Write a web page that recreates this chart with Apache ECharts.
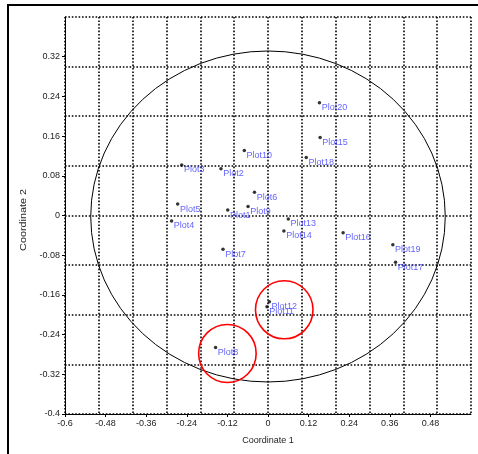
<!DOCTYPE html>
<html>
<head>
<meta charset="utf-8">
<script src="https://cdn.jsdelivr.net/npm/echarts@6/dist/echarts.min.js"></script>
<style>
html,body{margin:0;padding:0;background:#fff;}
#c{width:478px;height:454px;}
</style>
</head>
<body>
<div id="c"></div>
<script>
// Point data
var plotNames = ['Plot1','Plot2','Plot3','Plot4','Plot5','Plot6','Plot7','Plot8','Plot9','Plot10',
                 'Plot11','Plot12','Plot13','Plot14','Plot15','Plot16','Plot17','Plot18','Plot19','Plot20'];
var coord1 = [-0.119,-0.139,-0.255,-0.285,-0.267,-0.040,-0.133,-0.155,-0.059,-0.070,
              -0.003, 0.004, 0.060, 0.047, 0.154, 0.222, 0.377, 0.113, 0.369, 0.152];
var coord2 = [ 0.011, 0.094, 0.102,-0.011, 0.023, 0.047,-0.068,-0.266, 0.018, 0.131,
              -0.184,-0.174,-0.007,-0.031, 0.157,-0.035,-0.094, 0.117,-0.059, 0.227];
// Ellipses: center x, center y, radius x, radius y (data units)
var bigEllipse = [0.0, -0.002, 0.524, 0.3335];
var redCircles = [[0.048, -0.190, 0.085, 0.0585], [-0.120, -0.278, 0.085, 0.0585]];
// Axis tick settings
var xTickStep = 0.12, yTickStep = 0.08, gridStep = 0.1;
var xMin = -0.6, xMax = 0.6, yMin = -0.4, yMax = 0.4;
var xTitle = 'Coordinate 1', yTitle = 'Coordinate 2';

var pts = plotNames.map(function(n, i){ return {name: n, value: [coord1[i], coord2[i]]}; });

function fmt(v){ return String(parseFloat(v.toFixed(2))); }

function ellipseRender(color, width){
  return function(params, api){
    var c = api.coord([api.value(0), api.value(1)]);
    var s = api.size([api.value(2), api.value(3)]);
    var rx = s[0], ry = s[1];
    var d = 'M' + (c[0]-rx) + ' ' + c[1] +
            ' A' + rx + ' ' + ry + ' 0 1 0 ' + (c[0]+rx) + ' ' + c[1] +
            ' A' + rx + ' ' + ry + ' 0 1 0 ' + (c[0]-rx) + ' ' + c[1] + ' Z';
    return {
      type: 'path',
      shape: {pathData: d},
      style: {fill: null, stroke: color, lineWidth: width}
    };
  };
}

var font = 'Liberation Sans, Arial, sans-serif';
var chart = echarts.init(document.getElementById('c'), null, {renderer: 'canvas'});
chart.setOption({
  backgroundColor: '#fff',
  animation: false,
  graphic: [{
    type: 'rect', z: 100, silent: true,
    shape: {x: 8, y: 5, width: 500, height: 500},
    style: {fill: null, stroke: '#000', lineWidth: 2}
  }, {
    type: 'text', z: 100, silent: true,
    x: 24, y: 220, rotation: Math.PI / 2, scaleX: 1.2,
    style: {text: yTitle, fontFamily: font, fontSize: 9, fill: '#222',
            align: 'center', verticalAlign: 'middle'}
  }],
  grid: {left: 65, top: 17, right: 7, bottom: 40, containLabel: false},
  xAxis: [{
    type: 'value', min: xMin, max: xMax, interval: xTickStep,
    name: xTitle, nameLocation: 'middle', nameGap: 22,
    nameTextStyle: {fontFamily: font, fontSize: 9, color: '#222'},
    axisLine: {show: true, onZero: false, lineStyle: {color: '#000', width: 1}},
    axisTick: {show: true, length: 3, inside: false, lineStyle: {color: '#000'}},
    axisLabel: {show: true, margin: 5, fontFamily: font, fontSize: 9, color: '#222',
                showMaxLabel: false, formatter: fmt},
    splitLine: {show: false}
  }, {
    type: 'value', min: xMin, max: xMax, interval: gridStep, position: 'bottom',
    axisLine: {show: false}, axisTick: {show: false}, axisLabel: {show: false},
    splitLine: {show: true, lineStyle: {color: '#000', width: 1.6, type: [1.6, 1.8]}}
  }],
  yAxis: [{
    type: 'value', min: yMin, max: yMax, interval: yTickStep,
    axisLine: {show: true, onZero: false, lineStyle: {color: '#000', width: 1}},
    axisTick: {show: true, length: 3, inside: false, lineStyle: {color: '#000'}},
    axisLabel: {show: true, margin: 5, fontFamily: font, fontSize: 9, color: '#222',
                showMaxLabel: false, formatter: fmt},
    splitLine: {show: false}
  }, {
    type: 'value', min: yMin, max: yMax, interval: gridStep, position: 'left',
    axisLine: {show: false}, axisTick: {show: false}, axisLabel: {show: false},
    splitLine: {show: true, lineStyle: {color: '#000', width: 1.6, type: [1.6, 1.8]}}
  }],
  series: [{
    type: 'custom', xAxisIndex: 0, yAxisIndex: 0, z: 3, silent: true,
    renderItem: ellipseRender('#000', 1),
    data: [bigEllipse], clip: true
  }, {
    type: 'custom', xAxisIndex: 0, yAxisIndex: 0, z: 4, silent: true,
    renderItem: ellipseRender('#ff0000', 1.6),
    data: redCircles, clip: true
  }, {
    type: 'scatter', xAxisIndex: 0, yAxisIndex: 0, z: 5,
    symbol: 'circle', symbolSize: 3.5,
    itemStyle: {color: '#000'},
    label: {show: true, position: 'right', distance: 0.5, offset: [0, 5],
            formatter: function(p){ return p.name; },
            fontFamily: font, fontSize: 9, color: '#3b3bff'},
    data: pts
  }]
});
</script>
</body>
</html>
